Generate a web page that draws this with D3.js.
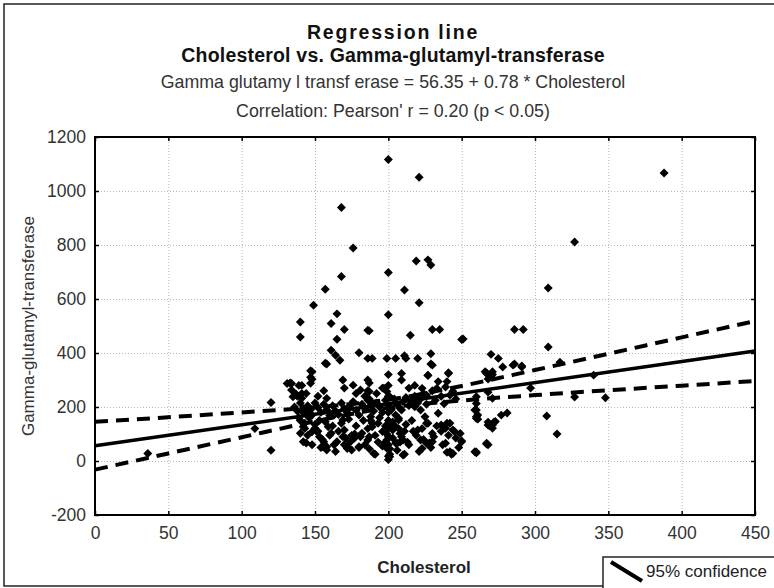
<!DOCTYPE html>
<html>
<head>
<meta charset="utf-8">
<script src="https://cdn.jsdelivr.net/npm/d3@7"></script>
<style>
  body { margin: 0; background: #fff; }
  text { font-family: "Liberation Sans", Arial, sans-serif; }
</style>
</head>
<body>
<div id="canvas"></div>
<script>
"use strict";

/* Drawing setup */
let svgWidth = 774;
let svgHeight = 588;
let plot = { left: 95, right: 755, top: 137, bottom: 515 };

/* Tick values */
let xTicks = [0, 50, 100, 150, 200, 250, 300, 350, 400, 450];
let yTicks = [-200, 0, 200, 400, 600, 800, 1000, 1200];

/* Scatter values (cholesterol, gamma-GT) */
let cholesterol = [
  200, 221, 388, 168, 176, 327, 219, 227, 229, 200, 168, 157, 211, 309, 149, 221, 200, 165, 140, 161,
  170, 186, 187, 230, 235, 286, 292, 215, 250, 140, 165, 309, 161, 180, 164, 167, 157, 186, 189, 199,
  205, 211, 220, 229, 229, 270, 275, 286, 291, 148, 148, 158, 209, 227, 241, 267, 271, 317, 308, 315,
  327, 348, 340, 297, 281, 268, 271, 267, 260, 260, 261, 251, 267, 270, 147, 147, 147, 133, 134, 135,
  169, 170, 176, 181, 187, 187, 197, 199, 201, 158, 141, 142, 140, 142, 148, 150, 159, 161, 156, 155,
  158, 165, 169, 169, 170, 172, 175, 180, 182, 186, 189, 188, 190, 193, 196, 199, 199, 201, 203, 205,
  207, 209, 207, 205, 208, 210, 206, 210, 227, 230, 241, 240, 266, 271, 268, 271, 234, 233, 239, 242,
  223, 226, 220, 218, 222, 225, 220, 222, 226, 230, 230, 227, 234, 236, 239, 240, 244, 239, 242, 244,
  250, 249, 259, 259, 261, 260, 268, 273, 271, 267, 277, 120, 120, 109, 36, 131, 134, 137, 144, 154,
  158, 164, 172, 170, 180, 191, 200, 200, 201, 205, 211, 223, 228, 240, 243, 250, 260, 268, 260, 260,
  260, 269, 272, 268, 270, 278, 285, 291, 136, 138, 140, 142, 144, 145, 147, 148, 150, 152, 154, 156,
  158, 160, 162, 164, 166, 168, 170, 172, 174, 176, 178, 180, 182, 184, 186, 188, 190, 192, 194, 196,
  198, 200, 202, 204, 206, 208, 210, 212, 214, 216, 218, 220, 222, 224, 226, 230, 232, 236, 238, 244,
  246, 140, 143, 146, 150, 153, 157, 162, 168, 173, 178, 183, 189, 194, 198, 203, 207, 212, 216, 219,
  223, 226, 231, 236, 241, 246, 200, 200, 200, 200, 200, 200, 200, 200, 199, 201, 198, 202, 186, 186,
  187, 188, 186, 187, 141, 141, 142, 139, 143, 212, 211, 209, 213, 175, 177, 163, 153, 151, 145, 148,
  152, 155, 160, 163, 166, 171, 174, 177, 181, 184, 187, 191, 193, 196, 203, 206, 208, 214, 217, 221,
  224, 229, 233, 237, 242, 245, 248, 184, 178, 192, 196, 214, 218, 209, 156, 152, 144, 139, 138
];
let ggt = [
  1117, 1051, 1067, 939, 789, 811, 741, 745, 726, 698, 683, 636, 633, 641, 577, 586, 542, 545, 515, 509,
  487, 484, 482, 487, 487, 487, 487, 466, 450, 459, 451, 422, 410, 401, 392, 373, 362, 380, 380, 380,
  380, 390, 380, 397, 359, 395, 380, 359, 352, 331, 303, 359, 324, 317, 324, 324, 320, 366, 167, 100,
  237, 234, 318, 270, 178, 144, 133, 63, 33, 189, 155, 452, 326, 311, 334, 310, 288, 289, 263, 238,
  300, 270, 281, 263, 289, 257, 270, 257, 238, 232, 232, 127, 103, 71, 108, 121, 127, 103, 71, 53,
  41, 71, 90, 152, 115, 53, 41, 53, 103, 78, 127, 164, 28, 140, 109, 78, 47, 16, 115, 170,
  152, 189, 158, 127, 102, 78, 66, 22, 318, 355, 327, 294, 331, 331, 304, 232, 294, 269, 274, 244,
  269, 244, 226, 201, 189, 164, 115, 78, 66, 71, 102, 140, 177, 133, 121, 140, 115, 66, 34, 28,
  71, 102, 34, 189, 170, 158, 133, 146, 121, 66, 170, 40, 217, 120, 28, 287, 287, 248, 67, 50,
  53, 35, 46, 60, 50, 25, 18, 5, 25, 67, 25, 46, 67, 32, 25, 74, 30, 60, 238, 213,
  164, 130, 144, 255, 317, 348, 355, 348, 200, 185, 215, 195, 175, 205, 190, 170, 215, 198, 180, 210,
  190, 168, 205, 185, 172, 215, 195, 180, 205, 220, 188, 170, 210, 195, 225, 205, 185, 215, 200, 180,
  225, 205, 190, 230, 210, 195, 220, 235, 205, 225, 240, 215, 230, 250, 210, 260, 225, 240, 212, 258,
  230, 150, 140, 160, 135, 150, 145, 130, 140, 155, 130, 150, 140, 160, 130, 145, 120, 135, 150, 95,
  120, 140, 90, 110, 95, 85, 60, 90, 120, 150, 180, 240, 280, 320, 100, 45, 70, 130, 300, 260,
  230, 150, 120, 90, 280, 250, 180, 160, 120, 380, 110, 90, 70, 95, 85, 170, 90, 110, 95, 60,
  110, 80, 95, 60, 110, 85, 70, 100, 90, 60, 45, 95, 70, 55, 85, 40, 70, 60, 110, 35,
  80, 50, 130, 60, 140, 110, 50, 240, 250, 250, 270, 270, 280, 300, 260, 240, 250, 280, 240
];

/* Regression line (from the printed equation) and 95% confidence band */
let fitX = [0, 450];
let fitY = [56.35, 407.35];
let bandX = [0, 50, 100, 150, 200, 250, 300, 350, 400, 450];
let bandUpper = [145, 162, 180, 199, 227, 278, 337, 397, 458, 518];
let bandLower = [-32, 28, 88, 147, 197, 224, 244, 262, 279, 296];

/* Text */
let titleLines = ["Regression line", "Cholesterol vs. Gamma-glutamyl-transferase"];
let subtitleLines = ["Gamma glutamy l transf erase = 56.35 + 0.78 * Cholesterol",
                     "Correlation: Pearson' r = 0.20 (p < 0.05)"];

let svg = d3.select("#canvas")
  .append("svg")
  .attr("width", svgWidth)
  .attr("height", svgHeight);

svg.append("rect") // outer frame, right side runs off the page
  .attr("x", 4).attr("y", 4)
  .attr("width", svgWidth + 10).attr("height", 582)
  .attr("fill", "#fff")
  .attr("stroke", "#222")
  .attr("stroke-width", 1.5);

let xScale = d3.scaleLinear().domain([0, 450]).range([plot.left, plot.right]);
let yScale = d3.scaleLinear().domain([-200, 1200]).range([plot.bottom, plot.top]);

/* Dotted grid */
svg.append("g")
  .attr("transform", `translate(0,${plot.bottom})`)
  .call(d3.axisBottom(xScale).tickValues(xTicks).tickSize(-(plot.bottom - plot.top)).tickFormat(""))
  .call(g => g.select(".domain").remove())
  .selectAll("line").attr("stroke", "#b8b8b8").attr("stroke-dasharray", "1,2");

svg.append("g")
  .attr("transform", `translate(${plot.left},0)`)
  .call(d3.axisLeft(yScale).tickValues(yTicks).tickSize(-(plot.right - plot.left)).tickFormat(""))
  .call(g => g.select(".domain").remove())
  .selectAll("line").attr("stroke", "#b8b8b8").attr("stroke-dasharray", "1,2");

/* Points: small rotated squares */
let diamond = d3.symbol().type(d3.symbolSquare).size(40);
svg.append("g")
  .selectAll("path")
  .data(d3.range(cholesterol.length))
  .join("path")
  .attr("d", diamond)
  .attr("transform", i => `translate(${xScale(cholesterol[i])},${yScale(ggt[i])}) rotate(45)`)
  .attr("fill", "#000");

/* Confidence band and regression line */
let bandLine = d3.line().curve(d3.curveMonotoneX)
  .x((d, i) => xScale(bandX[i]))
  .y(d => yScale(d));

[bandUpper, bandLower].forEach(band => {
  svg.append("path")
    .attr("d", bandLine(band))
    .attr("fill", "none")
    .attr("stroke", "#000")
    .attr("stroke-width", 4)
    .attr("stroke-dasharray", "13,8");
});

svg.append("path")
  .attr("d", d3.line().x((d, i) => xScale(fitX[i])).y(d => yScale(d))(fitY))
  .attr("fill", "none")
  .attr("stroke", "#000")
  .attr("stroke-width", 3.5);

/* Axes with inside ticks on all four sides */
let plainFormat = d => String(d);
let xAxis = svg.append("g")
  .attr("transform", `translate(0,${plot.bottom})`)
  .call(d3.axisBottom(xScale).tickValues(xTicks).tickSize(-4).tickPadding(12).tickFormat(plainFormat));
let yAxis = svg.append("g")
  .attr("transform", `translate(${plot.left},0)`)
  .call(d3.axisLeft(yScale).tickValues(yTicks).tickSize(-4).tickPadding(9).tickFormat(plainFormat));
svg.append("g")
  .attr("transform", `translate(0,${plot.top})`)
  .call(d3.axisTop(xScale).tickValues(xTicks).tickSize(-4).tickFormat(""))
  .select(".domain").remove();
svg.append("g")
  .attr("transform", `translate(${plot.right},0)`)
  .call(d3.axisRight(yScale).tickValues(yTicks).tickSize(-4).tickFormat(""))
  .select(".domain").remove();

[xAxis, yAxis].forEach(ax => {
  ax.select(".domain").remove();
  ax.selectAll("text").attr("font-size", 17.5).attr("fill", "#333")
    .attr("font-family", "'Liberation Sans', Arial, sans-serif");
});
svg.selectAll(".tick line").filter(function () { return this.getAttribute("stroke-dasharray") === null; })
  .attr("stroke", "#000").attr("stroke-width", 1.5);

svg.append("rect") // plot frame
  .attr("x", plot.left).attr("y", plot.top)
  .attr("width", plot.right - plot.left).attr("height", plot.bottom - plot.top)
  .attr("fill", "none").attr("stroke", "#000").attr("stroke-width", 2);

/* Titles */
let cx = 393;
svg.selectAll(".title")
  .data(titleLines)
  .join("text")
  .attr("class", "title")
  .attr("x", cx)
  .attr("y", (d, i) => 39 + i * 23)
  .attr("text-anchor", "middle")
  .attr("font-size", 19.5)
  .attr("font-weight", "bold")
  .attr("letter-spacing", (d, i) => i === 0 ? 1.8 : 0.2)
  .attr("fill", "#111")
  .text(d => d);

svg.selectAll(".subtitle")
  .data(subtitleLines)
  .join("text")
  .attr("class", "subtitle")
  .attr("x", cx)
  .attr("y", (d, i) => 88 + i * 29)
  .attr("text-anchor", "middle")
  .attr("font-size", 17.8)
  .attr("fill", "#333")
  .text(d => d);

/* Axis titles */
svg.append("text")
  .attr("x", 424).attr("y", 573)
  .attr("text-anchor", "middle")
  .attr("font-size", 17).attr("font-weight", "bold").attr("fill", "#222")
  .text("Cholesterol");

svg.append("text")
  .attr("transform", "translate(34,326) rotate(-90)")
  .attr("text-anchor", "middle")
  .attr("font-size", 17).attr("fill", "#333")
  .text("Gamma-glutamyl-transferase");

/* Legend box */
svg.append("rect")
  .attr("x", 603).attr("y", 557)
  .attr("width", 200).attr("height", 60)
  .attr("fill", "#fff").attr("stroke", "#222").attr("stroke-width", 1.5);
svg.append("line")
  .attr("x1", 611).attr("y1", 562).attr("x2", 642).attr("y2", 581)
  .attr("stroke", "#000").attr("stroke-width", 4);
svg.append("text")
  .attr("x", 646).attr("y", 577)
  .attr("font-size", 17).attr("fill", "#222")
  .text("95% confidence");
</script>
</body>
</html>
